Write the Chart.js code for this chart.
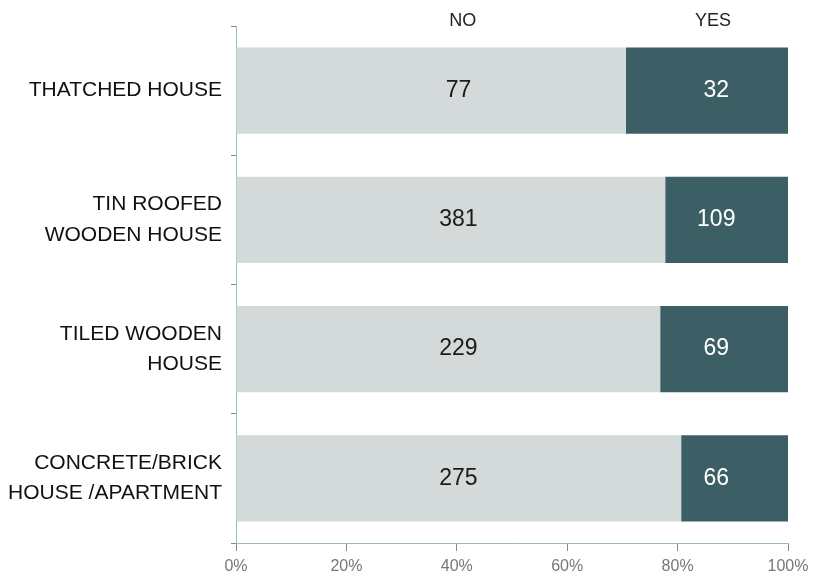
<!DOCTYPE html>
<html>
<head>
<meta charset="utf-8">
<script src="https://cdn.jsdelivr.net/npm/chart.js@4"></script>
<style>
  html, body { margin: 0; padding: 0; background: #fff; }
  #wrap { width: 822px; height: 579px; }
</style>
</head>
<body>
<div id="wrap"><canvas id="myChart" width="822" height="579"></canvas></div>
<script>
const categories = [
    ['THATCHED HOUSE'],
    ['TIN ROOFED', 'WOODEN HOUSE'],
    ['TILED WOODEN', 'HOUSE'],
    ['CONCRETE/BRICK', 'HOUSE /APARTMENT']
]
const noCounts = [77, 381, 229, 275]
const yesCounts = [32, 109, 69, 66]
const xTicks = [0, 20, 40, 60, 80, 100]

const noPct = noCounts.map((v, i) => v / (v + yesCounts[i]) * 100)
const yesPct = yesCounts.map((v, i) => v / (noCounts[i] + v) * 100)

// value labels and column headers
const labelPlugin = {
    id: 'labels',
    afterDatasetsDraw(chart) {
        const c = chart.ctx
        const x = chart.scales.x
        const y = chart.scales.y
        c.save()
        c.textAlign = 'center'
        c.textBaseline = 'middle'
        c.font = '23px "Liberation Sans"'
        categories.forEach((cat, i) => {
            const yp = y.getPixelForValue(i)
            c.fillStyle = '#1a1a1a'
            c.fillText(noCounts[i], x.getPixelForValue(40.3), yp)
            c.fillStyle = '#ffffff'
            c.fillText(yesCounts[i], x.getPixelForValue(87), yp)
        })
        c.font = '18px "Liberation Sans"'
        c.fillStyle = '#222'
        c.fillText('NO', x.getPixelForValue(41.1), 21)
        c.fillText('YES', x.getPixelForValue(86.4), 21)
        c.restore()
    }
}

const ctx = document.getElementById('myChart').getContext('2d');
new Chart(ctx, {
    type: 'bar',
    data: {
        labels: categories,
        datasets: [{
            label: 'NO',
            data: noPct,
            backgroundColor: '#d4d9da',
            borderWidth: 0,
            categoryPercentage: 0.667,
            barPercentage: 1
        }, {
            label: 'YES',
            data: yesPct,
            backgroundColor: '#3c5f66',
            borderWidth: 0,
            categoryPercentage: 0.667,
            barPercentage: 1
        }]
    },
    plugins: [labelPlugin],
    options: {
        indexAxis: 'y',
        responsive: false,
        animation: false,
        layout: { padding: { top: 26, right: 34, left: 0, bottom: 0 } },
        plugins: {
            legend: { display: false },
            tooltip: { enabled: false }
        },
        scales: {
            x: {
                stacked: true,
                min: 0,
                max: 100,
                afterBuildTicks: axis => { axis.ticks = xTicks.map(v => ({ value: v })) },
                afterFit: axis => { axis.height = 36 },
                grid: { display: true, drawOnChartArea: false, tickLength: 8, color: '#888' },
                border: { color: '#9cb8c4', dash: [2, 1] },
                ticks: {
                    callback: v => v + '%',
                    color: '#777',
                    font: { family: 'Liberation Sans', size: 16 },
                    padding: 6,
                    maxRotation: 0
                }
            },
            y: {
                stacked: true,
                afterFit: axis => {
                    axis.width = 236
                    axis.paddingTop = 0
                    axis.paddingBottom = 0
                },
                grid: { display: true, drawOnChartArea: false, offset: true, tickLength: 5, color: '#888' },
                border: { color: '#9cb8c4', dash: [2, 1] },
                ticks: {
                    color: '#111',
                    font: { family: 'Liberation Sans', size: 21, lineHeight: 1.45 },
                    padding: 9
                }
            }
        }
    }
})
</script>
</body>
</html>
